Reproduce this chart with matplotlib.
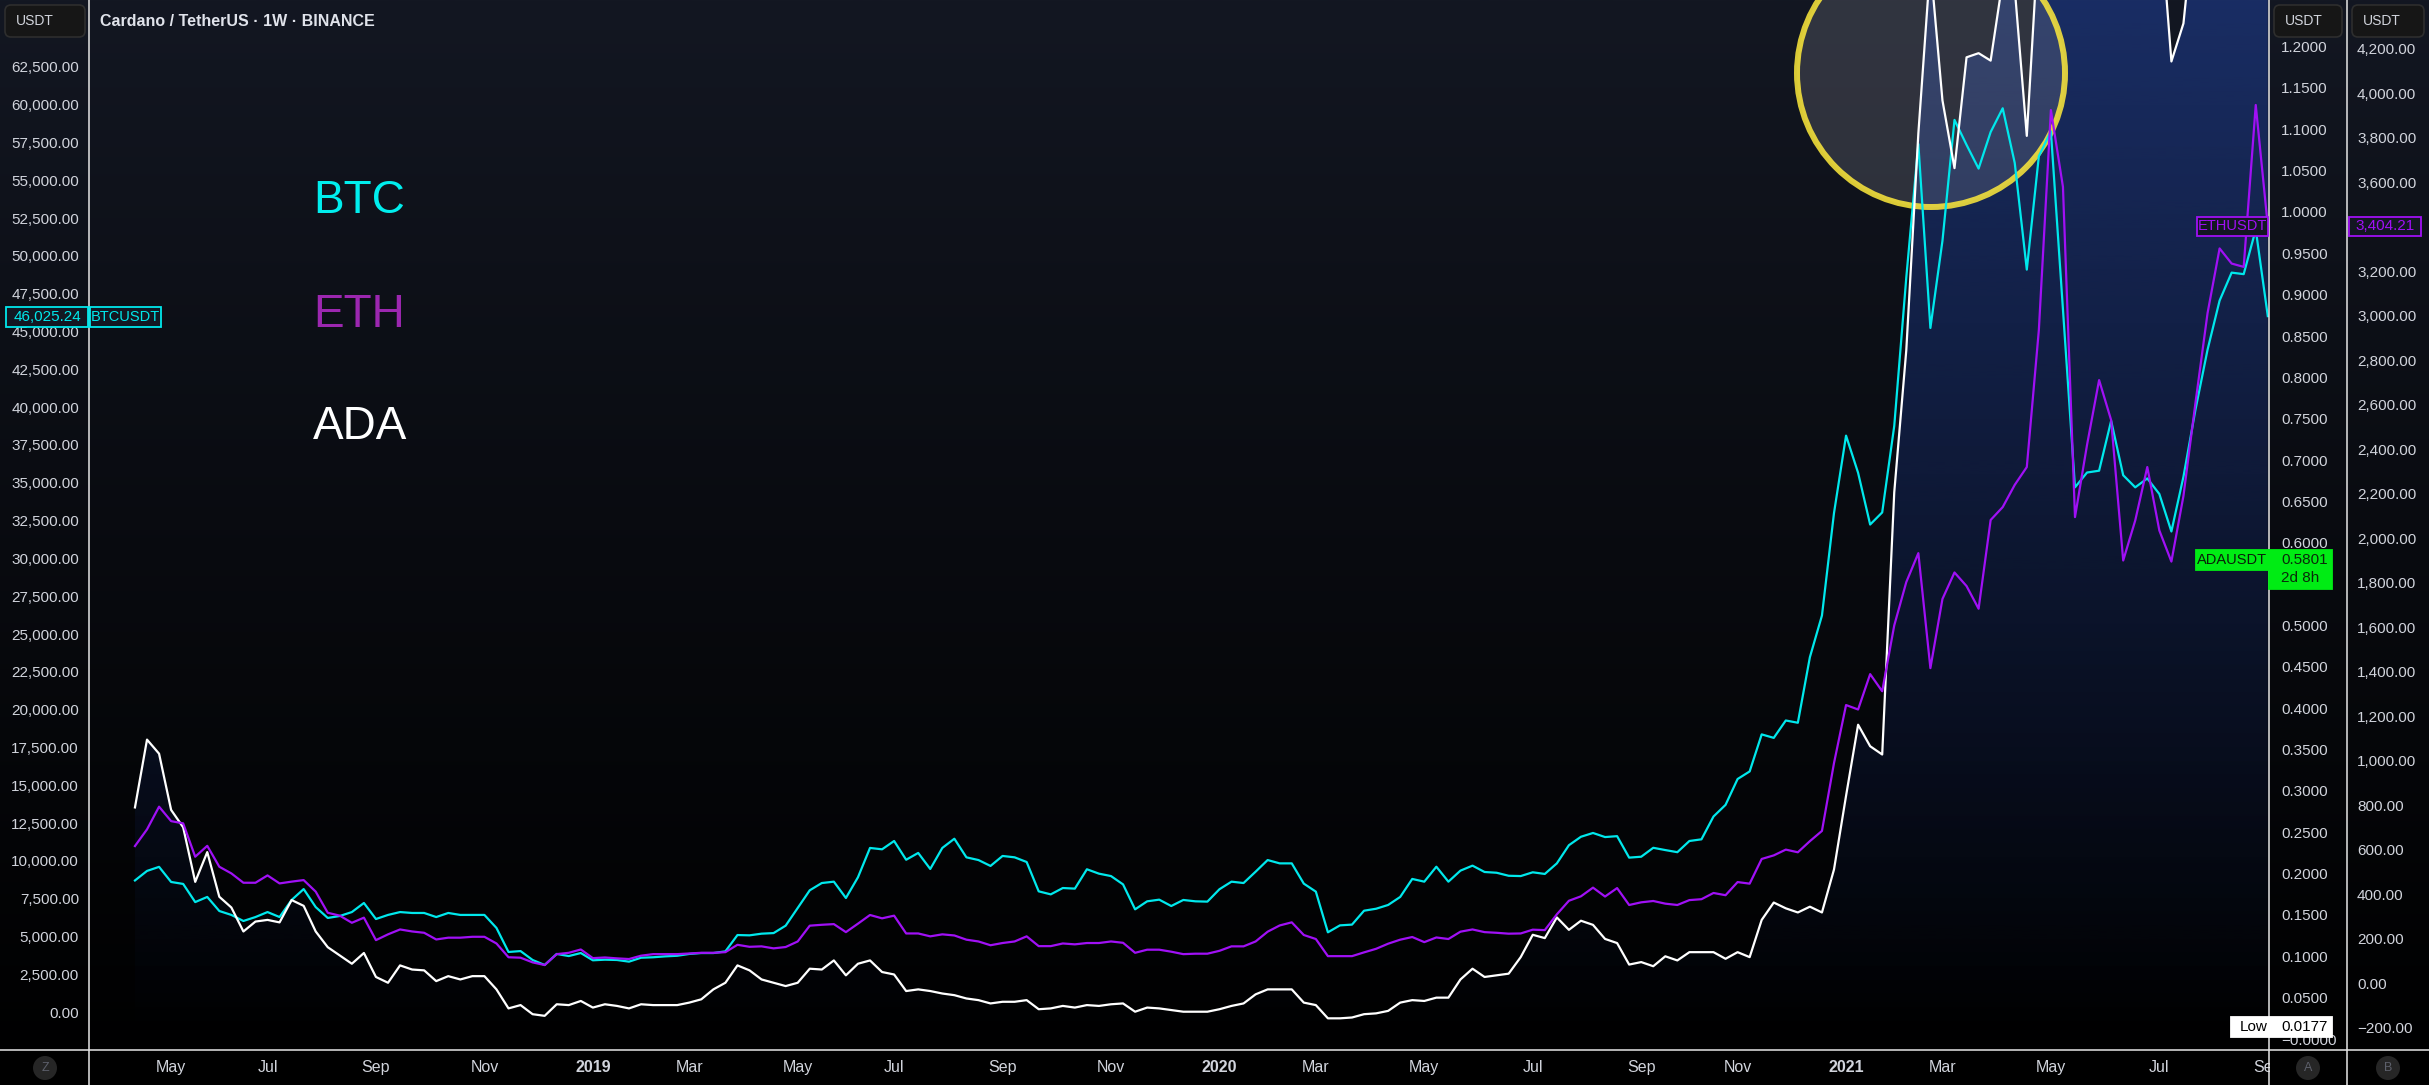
import numpy as np
import matplotlib
matplotlib.use('Agg')
import matplotlib.pyplot as plt
import matplotlib.dates as mdates
from matplotlib.patches import Rectangle, FancyBboxPatch, Ellipse
from matplotlib.lines import Line2D

plt.rcParams['font.family'] = ['Liberation Sans', 'DejaVu Sans']

W, H = 2429, 1085

# weekly bars, first one the week of 2018-04-16
week0 = np.datetime64('2018-04-16')
weeks = week0 + np.arange(178) * np.timedelta64(7, 'D')

btc = [8700, 9330, 9600, 8600, 8470, 7270, 7610, 6680, 6420, 6020,
       6280, 6610, 6280, 7410, 8130, 6940, 6220, 6350, 6610, 7210,
       6150, 6420, 6610, 6550, 6550, 6280, 6550, 6420, 6420, 6420,
       5560, 3970, 4030, 3440, 3110, 3840, 3700, 3900, 3420, 3460,
       3440, 3330, 3590, 3620, 3680, 3720, 3840, 3900, 3900, 4010,
       5090, 5070, 5180, 5220, 5710, 6880, 8050, 8530, 8620, 7540,
       8910, 10850, 10760, 11310, 10070, 10520, 9460, 10850, 11460, 10230,
       10050, 9660, 10320, 10230, 9920, 7980, 7780, 8200, 8160, 9440,
       9150, 8990, 8440, 6790, 7320, 7430, 7010, 7410, 7320, 7300,
       8120, 8620, 8530, 9280, 10050, 9830, 9830, 8490, 7960, 5270,
       5730, 5780, 6700, 6830, 7080, 7610, 8800, 8620, 9610, 8620,
       9350, 9680, 9260, 9210, 9010, 8990, 9240, 9130, 9830, 11030,
       11590, 11840, 11570, 11630, 10210, 10270, 10860, 10710, 10570, 11310,
       11420, 12930, 13700, 15410, 15910, 18360, 18130, 19280, 19130, 23470,
       26220, 33000, 38120, 35660, 32240, 33040, 38760, 48580, 57400, 45240,
       51000, 59000, 57350, 55780, 58200, 59770, 56150, 49100, 56600, 58240,
       46430, 34700, 35680, 35800, 39100, 35500, 34700, 35290, 34260, 31780,
       35400, 39850, 43800, 47050, 48900, 48800, 51750, 46025]

eth = [616, 691, 793, 728, 718, 568, 617, 523, 493, 451,
       451, 484, 448, 456, 463, 411, 316, 303, 271, 294,
       193, 219, 241, 232, 226, 196, 204, 204, 208, 208,
       178, 116, 114, 93, 81, 130, 136, 151, 112, 115,
       111, 108, 123, 130, 130, 130, 133, 136, 136, 139,
       172, 163, 165, 156, 162, 187, 258, 262, 265, 229,
       267, 306, 291, 303, 223, 223, 210, 219, 214, 195,
       187, 170, 180, 187, 210, 166, 166, 178, 174, 180,
       180, 187, 181, 136, 150, 150, 141, 130, 132, 132,
       145, 165, 165, 187, 231, 259, 273, 216, 198, 121,
       121, 121, 138, 154, 177, 195, 207, 184, 205, 198,
       231, 241, 229, 226, 222, 223, 240, 238, 309, 370,
       390, 429, 389, 427, 351, 363, 369, 357, 351, 373,
       377, 405, 395, 454, 447, 558, 574, 600, 588, 638,
       684, 989, 1250, 1230, 1389, 1312, 1608, 1803, 1933, 1416,
       1727, 1846, 1785, 1683, 2082, 2140, 2240, 2320, 2936, 3925,
       3580, 2095, 2420, 2711, 2531, 1900, 2080, 2320, 2035, 1895,
       2190, 2610, 3012, 3303, 3235, 3220, 3948, 3404]

ada = [0.280, 0.362, 0.345, 0.277, 0.256, 0.190, 0.226, 0.172, 0.159, 0.130,
       0.142, 0.144, 0.141, 0.168, 0.161, 0.130, 0.111, 0.101, 0.091, 0.104,
       0.075, 0.068, 0.089, 0.084, 0.083, 0.070, 0.076, 0.072, 0.076, 0.076,
       0.060, 0.037, 0.041, 0.030, 0.028, 0.042, 0.041, 0.046, 0.038, 0.042,
       0.040, 0.037, 0.042, 0.041, 0.041, 0.041, 0.044, 0.048, 0.060, 0.068,
       0.089, 0.083, 0.072, 0.068, 0.064, 0.068, 0.085, 0.084, 0.095, 0.077,
       0.091, 0.095, 0.081, 0.078, 0.058, 0.060, 0.058, 0.055, 0.053, 0.049,
       0.047, 0.043, 0.045, 0.045, 0.047, 0.036, 0.037, 0.040, 0.038, 0.041,
       0.040, 0.042, 0.043, 0.033, 0.038, 0.037, 0.035, 0.033, 0.033, 0.033,
       0.036, 0.040, 0.043, 0.054, 0.060, 0.060, 0.060, 0.044, 0.041, 0.025,
       0.025, 0.026, 0.030, 0.031, 0.034, 0.044, 0.047, 0.046, 0.050, 0.050,
       0.072, 0.085, 0.075, 0.077, 0.079, 0.099, 0.126, 0.122, 0.147, 0.132,
       0.143, 0.138, 0.121, 0.116, 0.090, 0.093, 0.088, 0.100, 0.095, 0.105,
       0.105, 0.105, 0.097, 0.105, 0.099, 0.144, 0.165, 0.158, 0.153, 0.160,
       0.153, 0.205, 0.294, 0.380, 0.354, 0.344, 0.661, 0.833, 1.095, 1.300,
       1.135, 1.053, 1.187, 1.192, 1.183, 1.280, 1.270, 1.092, 1.340, 1.770,
       2.100, 1.500, 1.700, 1.660, 1.550, 1.350, 1.400, 1.420, 1.370, 1.182,
       1.228, 1.370, 1.450, 2.100, 2.800, 2.850, 2.800, 2.500]

btc_ticks = np.arange(0, 62501, 2500)
ada_ticks = np.round(np.arange(25) * 0.05, 2)
eth_ticks = np.arange(-200, 4201, 200)
# scale labels that sit under the last-price tags in the reference
ada_hidden = [0.55]
eth_hidden = [3400]

CYAN = '#00e8ec'
PURPLE = '#a010f5'
GREEN = '#00ec14'
TXT = '#d1d4dc'


def fx(x):
    return x / W


def fy(y):
    return 1 - y / H


fig = plt.figure(figsize=(W / 100, H / 100), dpi=100, facecolor='black')

# background gradient
ax_bg = fig.add_axes([0, 0, 1, 1], zorder=-10)
t = np.linspace(0, 1, 512)[:, None, None]
top = np.array([19, 23, 34]) / 255.0
ax_bg.imshow(top * (1 - t) ** 1.1, aspect='auto', extent=[0, 1, 0, 1], origin='upper')
ax_bg.set_axis_off()

rect = [fx(89), fy(1050), (2269 - 89) / W, 1050 / H]
xd = mdates.date2num(weeks)
XL = (xd[0] - 26.7, xd[0] + 1239.7)
ADA_LIM = (-0.0133, 1.2563)

# gradient area under the ADA line
ax_fill = fig.add_axes(rect, zorder=-5)
ax_fill.set_axis_off()
ax_fill.patch.set_visible(False)
coll = ax_fill.fill_between(xd, ada, -1, facecolor='none', edgecolor='none')
g = np.zeros((256, 1, 4))
g[..., 0] = 41 / 255
g[..., 1] = 98 / 255
g[..., 2] = 1.0
g[..., 3] = np.linspace(0.30, 0.0, 256)[:, None]
im = ax_fill.imshow(g, aspect='auto', extent=[XL[0], XL[1], ADA_LIM[0], ADA_LIM[1]],
                    origin='upper', interpolation='bilinear')
im.set_clip_path(coll.get_paths()[0], transform=ax_fill.transData)
ax_fill.set_xlim(XL)
ax_fill.set_ylim(ADA_LIM)

circ = Ellipse((fx(1931), fy(73)), 268 / W, 268 / H, transform=fig.transFigure,
               facecolor=(0.47, 0.48, 0.53, 0.30), edgecolor=(1.0, 0.92, 0.23, 0.85),
               lw=4.3, clip_on=False, zorder=5)
ax_fill.add_artist(circ)

# price axes
ax = fig.add_axes(rect, zorder=0)
ax.patch.set_visible(False)
ax_ada = ax.twinx()
ax_eth = ax.twinx()
for a in (ax, ax_ada, ax_eth):
    a.set_xlim(XL)
    for s in a.spines.values():
        s.set_visible(False)
ax.set_ylim(-2513, 66931)
ax_ada.set_ylim(ADA_LIM)
ax_eth.set_ylim(-301, 4420)

ax_ada.plot(xd, ada, color='white', lw=1.6)
ax.plot(xd, btc, color=CYAN, lw=1.6)
ax_eth.plot(xd, eth, color=PURPLE, lw=1.6)

ax.set_yticks(btc_ticks)
ax.set_yticklabels([f'{v:,.2f}' for v in btc_ticks])
ax.tick_params(axis='y', length=0, pad=7.2, labelsize=11, labelcolor=TXT)

ada_labels = []
for v in ada_ticks:
    if v in ada_hidden:
        ada_labels.append('')
    elif v == 0:
        ada_labels.append('\u22120.0000')
    else:
        ada_labels.append(f'{v:.4f}')
ax_ada.set_yticks(ada_ticks)
ax_ada.set_yticklabels(ada_labels)
ax_ada.tick_params(axis='y', length=0, pad=8.6, labelsize=11, labelcolor=TXT)

ax_eth.spines['right'].set_position(('axes', (2347 - 89) / (2269 - 89)))
ax_eth.set_yticks(eth_ticks)
ax_eth.set_yticklabels(['' if v in eth_hidden else f'{v:,.2f}'.replace('-', '\u2212')
                        for v in eth_ticks])
ax_eth.tick_params(axis='y', length=0, pad=7.2, labelsize=11, labelcolor=TXT)

# month labels on the first weekly bar of every other month
names = {3: 'Mar', 5: 'May', 7: 'Jul', 9: 'Sep', 11: 'Nov'}
tpos, tlab, tbold = [], [], []
for yr in range(2018, 2022):
    for m in range(1, 13, 2):
        ms = np.datetime64(f'{yr}-{m:02d}-01')
        if ms < np.datetime64('2018-05-01') or ms > np.datetime64('2021-09-01'):
            continue
        first = weeks[weeks >= ms][0]
        tpos.append(mdates.date2num(first))
        tlab.append(str(yr) if m == 1 else names[m])
        tbold.append(m == 1)
ax.set_xticks(tpos)
ax.set_xticklabels(tlab)
ax.tick_params(axis='x', length=0, pad=7, labelsize=11.5, labelcolor=TXT)
for lab, b in zip(ax.get_xticklabels(), tbold):
    if b:
        lab.set_fontweight('bold')

# cover the cut-off label under the right scales
fig.add_artist(Rectangle((fx(2270), 0), 1 - fx(2270), (H - 1051) / H,
                         transform=fig.transFigure, facecolor='black', edgecolor='none', zorder=7))

# separators
for x in (89, 2269, 2347):
    fig.add_artist(Line2D([fx(x), fx(x)], [0, 1], transform=fig.transFigure,
                          color='#e6e6e6', lw=1.1, zorder=8))
fig.add_artist(Line2D([0, 1], [fy(1050), fy(1050)], transform=fig.transFigure,
                      color='#e6e6e6', lw=1.1, zorder=8))


def box(x0, y0, x1, y1, fc, ec=None):
    fig.add_artist(Rectangle((fx(x0), fy(y1)), (x1 - x0) / W, (y1 - y0) / H,
                             transform=fig.transFigure, facecolor=fc,
                             edgecolor=ec or fc, lw=1.3, zorder=9))


def label(x, y, s, color, size=10.5, ha='center', weight='normal'):
    fig.text(fx(x), fy(y), s, color=color, fontsize=size, ha=ha, va='center',
             fontweight=weight, zorder=10)


def usdt(x0, x1):
    fig.add_artist(FancyBboxPatch((fx(x0), fy(37)), (x1 - x0) / W, 32 / H,
                                  boxstyle='round,pad=0,rounding_size=%f' % (6 / W),
                                  mutation_aspect=W / H, transform=fig.transFigure,
                                  facecolor='#161616', edgecolor='#2e2e2e', lw=1.2, zorder=9))
    label(x0 + 11, 21, 'USDT', TXT, size=10, ha='left')


usdt(5, 85)
usdt(2274, 2342)
usdt(2352, 2424)

fig.text(fx(100), fy(21), 'Cardano / TetherUS \u00b7 1W \u00b7 BINANCE', color='#e0e3eb',
         fontsize=11.5, fontweight='bold', ha='left', va='center', zorder=10)

fig.text(fx(313), fy(213), 'BTC', color='#00eeee', fontsize=33, ha='left', va='baseline', zorder=10)
fig.text(fx(313), fy(327), 'ETH', color='#9c27b0', fontsize=33, ha='left', va='baseline', zorder=10)
fig.text(fx(313), fy(439), 'ADA', color='white', fontsize=33, ha='left', va='baseline', zorder=10)

# last price tags
box(6, 307, 88, 327, '#131722', CYAN)
label(47, 317, '46,025.24', CYAN, size=11)
box(90, 307, 161, 327, '#131722', CYAN)
label(125.5, 317, 'BTCUSDT', CYAN)

box(2197, 217, 2268, 236, '#131722', PURPLE)
label(2232.5, 226.5, 'ETHUSDT', PURPLE)
box(2349, 217, 2421, 236, '#131722', PURPLE)
label(2385, 226.5, '3,404.21', PURPLE, size=11)

box(2196, 550, 2269, 570, GREEN)
label(2232.5, 560, 'ADAUSDT', '#0a1f0a')
box(2269, 550, 2332, 589, GREEN)
label(2281, 560, '0.5801', '#0a2a0a', size=11, ha='left')
label(2281, 578, '2d 8h', '#0a2a0a', size=11, ha='left')

box(2231, 1017, 2332, 1037, 'white')
label(2240, 1027, 'Low', 'black', size=11, ha='left')
label(2281, 1027, '0.0177', 'black', size=11, ha='left')

# small round buttons
for cx, s in ((45, 'Z'), (2308, 'A'), (2388, 'B')):
    fig.add_artist(Ellipse((fx(cx), fy(1068)), 24 / W, 24 / H, transform=fig.transFigure,
                           facecolor='#262626', edgecolor='none', zorder=9))
    label(cx, 1068, s, '#5d606b', size=9)

fig.savefig('out.png', dpi=100, facecolor='black')
